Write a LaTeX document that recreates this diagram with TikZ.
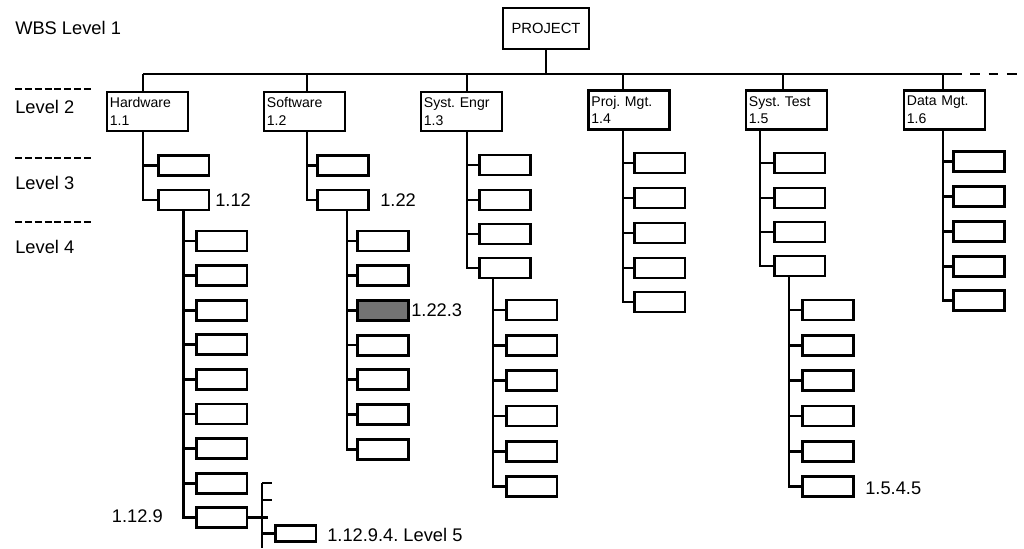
\documentclass[tikz,border=0pt]{standalone}
\usepackage{fontspec}
\setmainfont{Liberation Sans}
\usepackage{tikz}
\frenchspacing

\begin{document}
\begin{tikzpicture}[x=0.025cm,y=-0.025cm,
  wbsline/.style={line width=1.9pt},
  topbox/.style={draw,line width=1.8pt,minimum width=2.0cm,minimum height=0.97cm,
    text width=1.88cm,align=left,inner sep=2pt,font=\fontsize{10}{12.5}\selectfont},
  leaf/.style={draw,line width=2pt,minimum width=1.27cm,minimum height=0.5cm,inner sep=0pt},
  lvl/.style={anchor=west,inner sep=0pt,font=\fontsize{13}{15}\selectfont},
  lvlsep/.style={line width=1.5pt,dash pattern=on 5pt off 2pt}]
  \useasboundingbox (0,0) rectangle (1024,548);

  % level 1
  \node[draw,line width=1.8pt,minimum width=2.15cm,minimum height=1.02cm,
    font=\fontsize{10.5}{12}\selectfont] (proj) at (546,28.5) {PROJECT};
  \coordinate (busL) at (143,74);
  \coordinate (busR) at (952,74);
  \coordinate (busEnd) at (1024,74);
  \draw[wbsline] (busL) -- (busR);
  \draw[wbsline,dash pattern=on 7pt off 6pt] (busR) -- (busEnd);
  \draw[wbsline] (proj.south) -- (proj.south |- busL);

  % level 2
  \foreach \n/\x/\y/\dx/\sx/\t in {hw/147.5/111.5/143/143/{Hardware\\1.1},
      sw/304.5/111.5/307/307/{Software\\1.2}, se/461.5/111.5/467/467/{Syst. Engr\\1.3},
      pm/629/110/623/623/{Proj. Mgt.\\1.4}, st/786.5/110/783/760/{Syst. Test\\1.5},
      dm/944.5/110/943/943/{Data Mgt.\\1.6}} {
    \node[topbox] (\n) at (\x,\y) {\t};
    \coordinate (\n-drop) at (\dx,74);
    \coordinate (\n-sp) at (\sx,\y);
    \draw[wbsline] (\n-drop) -- (\n-drop |- \n.north);
  }

  % level 3
  \foreach \k/\y in {1/165.5,2/200} {
    \node[leaf] (hw3-\k) at (183.5,\y) {};
    \draw[wbsline] (hw-sp |- hw.south) |- (hw3-\k.west);
    \node[leaf] (sw3-\k) at (343,\y) {};
    \draw[wbsline] (sw-sp |- sw.south) |- (sw3-\k.west);
  }
  \foreach \k/\y in {1/165,2/200,3/234,4/268} {
    \node[leaf] (se3-\k) at (505,\y) {};
    \draw[wbsline] (se-sp |- se.south) |- (se3-\k.west);
    \node[leaf] (st3-\k) at (799.5,{\y-2}) {};
    \draw[wbsline] (st-sp |- st.south) |- (st3-\k.west);
  }
  \foreach \k/\y in {1/163,2/198,3/233,4/268,5/302} {
    \node[leaf] (pm3-\k) at (659.5,\y) {};
    \draw[wbsline] (pm-sp |- pm.south) |- (pm3-\k.west);
    \node[leaf] (dm3-\k) at (979,{\y-1.5}) {};
    \draw[wbsline] (dm-sp |- dm.south) |- (dm3-\k.west);
  }

  % level 4
  \foreach \k in {1,...,9} {
    \node[leaf] (hw4-\k) at (221.5,{241+34.6*(\k-1)}) {};
    \draw[wbsline] (hw3-2.south) |- (hw4-\k.west);
  }
  \path (sw3-2.south) ++(4,0) coordinate (sw4-sp);
  \foreach \k/\f in {1/white,2/white,3/black!55,4/white,5/white,6/white,7/white} {
    \node[leaf,fill=\f] (sw4-\k) at (383,{241+34.7*(\k-1)}) {};
    \draw[wbsline] (sw4-sp) |- (sw4-\k.west);
  }
  \path (se3-4.south) ++(-12,0) coordinate (se4-sp);
  \path (st3-4.south) ++(-10.5,0) coordinate (st4-sp);
  \foreach \k in {1,...,6} {
    \node[leaf] (se4-\k) at (531.5,{310+35.3*(\k-1)}) {};
    \draw[wbsline] (se4-sp) |- (se4-\k.west);
    \node[leaf] (st4-\k) at (828,{310+35.3*(\k-1)}) {};
    \draw[wbsline] (st4-sp) |- (st4-\k.west);
  }

  % level 5
  \node[leaf,minimum width=1.02cm,minimum height=0.4cm] (l5) at (295.5,533.5) {};
  \coordinate (l5top) at (262,483);
  \coordinate (l5bot) at (262,548);
  \draw[wbsline] (l5top) -- (l5bot);
  \draw[wbsline] (l5top) -- ++(10,0);
  \draw[wbsline] (l5top) ++(0,17) -- ++(10,0);
  \draw[wbsline] (hw4-9.east) -- ++(20,0);
  \draw[wbsline] (l5top |- l5.west) -- (l5.west);

  % level names
  \node[lvl] (wbs1) at (15,28) {WBS Level 1};
  \node[lvl] (lv2) at (15,107) {Level 2};
  \node[lvl] (lv3) at (15,183) {Level 3};
  \node[lvl] (lv4) at (15,247) {Level 4};
  \draw[lvlsep] (15,89) -- (93,89);
  \draw[lvlsep] (15,158) -- (93,158);
  \draw[lvlsep] (15,222) -- (93,222);

  % codes
  \node[lvl] (c112) at (215,200) {1.12};
  \node[lvl] (c122) at (380,200) {1.22};
  \node[lvl] (c1223) at (411,310) {1.22.3};
  \node[lvl,anchor=east] (c1129) at (163,516) {1.12.9};
  \node[lvl] (c11294) at (327,535) {1.12.9.4. Level 5};
  \node[lvl] (c1545) at (865,488) {1.5.4.5};
\end{tikzpicture}
\end{document}
